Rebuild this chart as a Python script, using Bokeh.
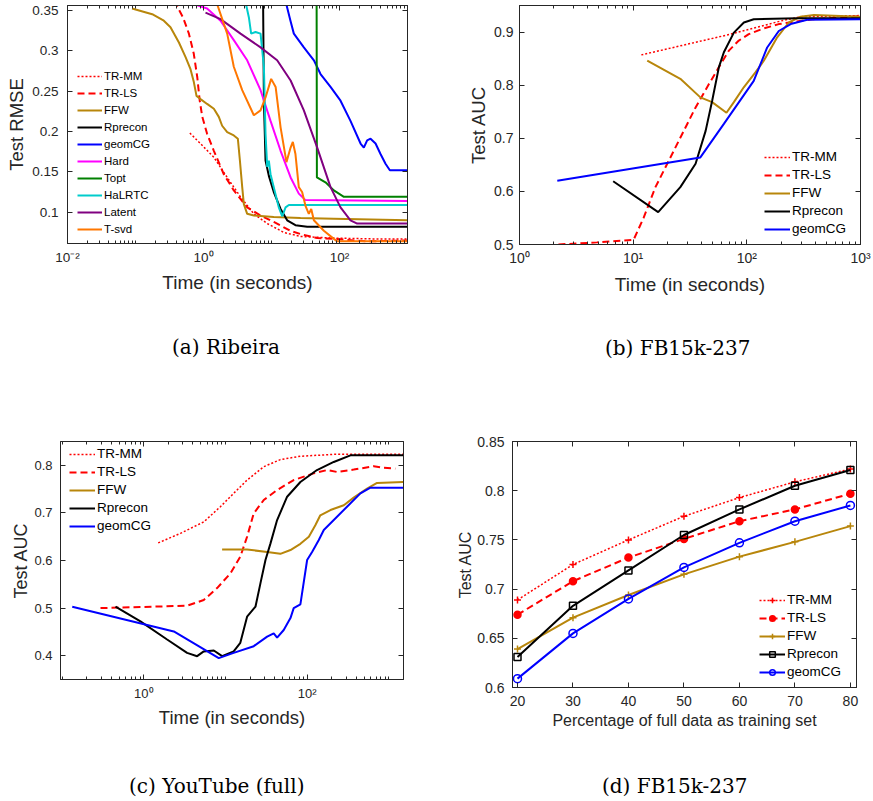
from bokeh.plotting import figure
from bokeh.models import (Legend, LegendItem, LogAxis, LinearAxis, FixedTicker,
                          CustomJSTickFormatter, Range1d, Div)
from bokeh.layouts import column, row
from bokeh.embed import file_html
from bokeh.resources import INLINE

# ---------------- data ----------------
names_a = ["TR-MM", "TR-LS", "FFW", "Rprecon", "geomCG", "Hard", "Topt", "HaLRTC", "Latent", "T-svd"]
names_b = ["TR-MM", "TR-LS", "FFW", "Rprecon", "geomCG"]
captions = ["(a) Ribeira", "(b) FB15k-237", "(c) YouTube (full)", "(d) FB15k-237"]

# (a) Ribeira : Test RMSE vs time (s)
a_trmm_t = [0.63, 0.90, 1.42, 2.23, 3.50, 5.5, 8.65, 15.2, 26.7, 82.6, 300, 1000]
a_trmm_v = [0.198, 0.185, 0.168, 0.143, 0.119, 0.098, 0.086, 0.075, 0.070, 0.068, 0.067, 0.067]
a_trls_t = [0.37, 0.50, 0.61, 0.72, 0.81, 0.88, 0.96, 1.13, 1.42, 1.99, 2.79, 4.39, 6.9, 10.8, 19, 26.7, 47, 82.6, 255, 1000]
a_trls_v = [0.362, 0.341, 0.321, 0.296, 0.267, 0.238, 0.218, 0.197, 0.176, 0.147, 0.127, 0.106, 0.096, 0.088, 0.077, 0.073, 0.068, 0.067, 0.064, 0.065]
a_ffw_t = [0.089, 0.176, 0.261, 0.327, 0.435, 0.545, 0.644, 0.721, 0.789, 0.904, 1.13, 1.42, 1.68, 1.88, 2.23, 2.79, 3.2, 3.43, 3.71, 3.92, 4.39, 5.5, 10.8, 26.7, 82.6, 1000]
a_ffw_v = [0.352, 0.345, 0.337, 0.329, 0.310, 0.292, 0.277, 0.261, 0.244, 0.240, 0.234, 0.228, 0.218, 0.207, 0.199, 0.195, 0.191, 0.164, 0.131, 0.110, 0.098, 0.096, 0.094, 0.093, 0.092, 0.090]
a_rpre_t = [7.46, 7.73, 8.17, 9.14, 10.8, 13.6, 17.0, 22.5, 33.5, 1000]
a_rpre_v = [0.40, 0.238, 0.164, 0.145, 0.125, 0.104, 0.090, 0.084, 0.082, 0.082]
a_geom_t = [16, 19, 21.3, 29.9, 42, 52.6, 73.8, 103.5, 145, 204, 228, 255, 286, 339, 401, 475, 550, 1000]
a_geom_v = [0.362, 0.337, 0.321, 0.304, 0.288, 0.271, 0.255, 0.238, 0.213, 0.185, 0.180, 0.189, 0.191, 0.185, 0.172, 0.160, 0.152, 0.152]
a_hard_t = [0.75, 1.13, 1.78, 2.79, 4.39, 6.9, 9.68, 13.6, 19.1, 25.2, 31.6, 1000]
a_hard_v = [0.357, 0.352, 0.337, 0.313, 0.288, 0.251, 0.213, 0.176, 0.143, 0.123, 0.115, 0.114]
a_topt_t = [46, 46.5, 62.2, 82.6, 116, 1000]
a_topt_v = [0.40, 0.143, 0.137, 0.127, 0.119, 0.119]
a_halr_t = [4.15, 4.65, 5.02, 5.82, 6.9, 7.73, 8.17, 8.65, 9.14, 9.68, 10.8, 12.8, 14.4, 16.1, 18, 1000]
a_halr_v = [0.36, 0.341, 0.321, 0.323, 0.321, 0.280, 0.197, 0.156, 0.164, 0.147, 0.131, 0.106, 0.095, 0.106, 0.109, 0.109]
a_late_t = [1.07, 1.78, 3.5, 6.9, 12.1, 19.1, 29.9, 47, 73.8, 103.5, 145, 182, 1000]
a_late_v = [0.347, 0.339, 0.321, 0.304, 0.288, 0.263, 0.226, 0.180, 0.131, 0.106, 0.090, 0.086, 0.086]
a_tsvd_t = [1.55, 2.23, 2.79, 3.71, 5.5, 6.9, 8.17, 9.89, 11.5, 13.6, 16.6, 19.1, 20.6, 22.5, 25.2, 28.2, 31.6, 35.4, 38.4, 42, 58.9, 82.6, 92.5, 1000]
a_tsvd_v = [0.36, 0.321, 0.280, 0.251, 0.220, 0.226, 0.242, 0.265, 0.255, 0.205, 0.162, 0.180, 0.187, 0.172, 0.131, 0.125, 0.108, 0.098, 0.104, 0.090, 0.077, 0.067, 0.064, 0.064]

# (b) FB15k-237 : Test AUC vs time (s)
b_trmm_t = [11.8, 72, 200, 300, 1000]
b_trmm_v = [0.857, 0.896, 0.921, 0.929, 0.931]
b_trls_t = [2.2, 4.8, 10.1, 12.4, 15.7, 20.6, 27, 35.4, 46.4, 56.8, 69.5, 85, 104, 137, 191, 376, 1000]
b_trls_v = [0.500, 0.504, 0.509, 0.551, 0.608, 0.658, 0.708, 0.758, 0.802, 0.834, 0.865, 0.884, 0.896, 0.906, 0.915, 0.924, 0.930]
b_ffw_t = [13.3, 26, 39, 49.5, 66.2, 76.9, 94, 119, 141, 185, 234, 297, 389, 1000]
b_ffw_v = [0.846, 0.812, 0.777, 0.768, 0.748, 0.768, 0.796, 0.824, 0.846, 0.890, 0.918, 0.929, 0.932, 0.929]
b_rpre_t = [6.67, 16.6, 26, 35.4, 43.4, 49.6, 56.8, 62.8, 76.9, 94.2, 115, 277, 1000]
b_rpre_v = [0.619, 0.561, 0.608, 0.652, 0.714, 0.771, 0.834, 0.862, 0.899, 0.918, 0.924, 0.926, 0.926]
b_geom_t = [2.15, 39, 62.8, 115, 151, 191, 243, 340, 1000]
b_geom_v = [0.620, 0.664, 0.727, 0.808, 0.871, 0.902, 0.915, 0.923, 0.924]

# (c) YouTube (full) : Test AUC vs time (s)
c_trmm_t = [1.5, 2.81, 5.42, 8.67, 12.6, 18.4, 29.4, 47, 82.7, 212, 1500]
c_trmm_v = [0.637, 0.657, 0.681, 0.713, 0.741, 0.769, 0.797, 0.812, 0.819, 0.823, 0.823]
c_trls_t = [0.295, 3.4, 5.42, 7.9, 11.5, 15.2, 18.4, 22.2, 29.4, 42.9, 68.5, 120, 175, 232, 372, 653, 867, 1200]
c_trls_v = [0.500, 0.505, 0.517, 0.542, 0.573, 0.608, 0.650, 0.699, 0.727, 0.748, 0.769, 0.783, 0.790, 0.786, 0.791, 0.798, 0.795, 0.793]
c_ffw_t = [9.1, 18.4, 32.4, 47, 62.5, 82.7, 105, 126, 145, 193, 281, 372, 542, 718, 1500]
c_ffw_v = [0.623, 0.623, 0.618, 0.614, 0.622, 0.635, 0.650, 0.674, 0.695, 0.706, 0.716, 0.732, 0.751, 0.763, 0.765]
c_rpre_t = [0.45, 0.91, 1.93, 3.39, 4.5, 5.42, 7.2, 9.1, 12.6, 15.2, 18.4, 23.3, 26.8, 30.9, 35.6, 42.9, 56.9, 82.7, 132, 212, 339, 1500]
c_rpre_v = [0.503, 0.472, 0.434, 0.406, 0.399, 0.409, 0.411, 0.399, 0.409, 0.427, 0.482, 0.503, 0.552, 0.601, 0.636, 0.685, 0.734, 0.765, 0.790, 0.807, 0.821, 0.821]
c_geom_t = [0.133, 2.33, 8.28, 12.6, 22.2, 32.4, 39, 42.9, 51.7, 62.5, 68.5, 82.7, 100, 115, 139, 160, 212, 308, 449, 596, 1500]
c_geom_v = [0.503, 0.451, 0.395, 0.406, 0.420, 0.440, 0.447, 0.438, 0.454, 0.479, 0.500, 0.508, 0.601, 0.618, 0.643, 0.664, 0.685, 0.713, 0.741, 0.753, 0.753]

# (d) FB15k-237 : Test AUC vs percentage of training data
d_pct = [20, 30, 40, 50, 60, 70, 80]
d_trmm = [0.689, 0.725, 0.750, 0.774, 0.793, 0.809, 0.822]
d_trls = [0.674, 0.708, 0.732, 0.751, 0.769, 0.781, 0.797]
d_ffw = [0.639, 0.671, 0.694, 0.715, 0.733, 0.748, 0.764]
d_rpre = [0.631, 0.683, 0.719, 0.755, 0.781, 0.805, 0.821]
d_geom = [0.609, 0.655, 0.690, 0.722, 0.747, 0.769, 0.785]

# ---------------- styles ----------------
AX = "#262626"
STY = {
    "TR-MM": dict(color="#FF0000", dash="2 2", width=1.5),
    "TR-LS": dict(color="#FF0000", dash="7 4", width=2),
    "FFW": dict(color="#B8860B", dash="solid", width=2),
    "Rprecon": dict(color="#000000", dash="solid", width=2),
    "geomCG": dict(color="#0000FF", dash="solid", width=2),
    "Hard": dict(color="#FF00FF", dash="solid", width=2),
    "Topt": dict(color="#008000", dash="solid", width=2),
    "HaLRTC": dict(color="#00CCCC", dash="solid", width=2),
    "Latent": dict(color="#800080", dash="solid", width=2),
    "T-svd": dict(color="#FF7700", dash="solid", width=2),
}

LOG_FMT = CustomJSTickFormatter(code="""
const e = Math.round(Math.log10(tick));
const m = {"-": "\u207b", "0": "\u2070", "1": "\u00b9", "2": "\u00b2", "3": "\u00b3"};
return "10" + String(e).split("").map(c => m[c]).join("");
""")
LIN_FMT = CustomJSTickFormatter(code="""
let s = tick.toFixed(2);
s = s.replace(/0+$/, "").replace(/\\.$/, "");
return s;
""")


def style_axis(ax, size, minor=True):
    ax.axis_line_color = AX
    ax.major_tick_line_color = AX
    ax.minor_tick_line_color = AX if minor else None
    ax.major_tick_in = 5
    ax.major_tick_out = 0
    ax.minor_tick_in = 3
    ax.minor_tick_out = 0
    ax.major_label_text_font = "Liberation Sans"
    ax.major_label_text_font_size = size
    ax.major_label_text_color = AX
    ax.axis_label_text_font = "Liberation Sans"
    ax.axis_label_text_font_style = "normal"
    ax.axis_label_text_color = AX


def log_minors(lo_dec, hi_dec, majors):
    minors = []
    for d in range(lo_dec, hi_dec + 1):
        for k in range(1, 10):
            v = k * 10.0 ** d
            if v not in majors:
                minors.append(v)
    return minors


def make_fig(w, h, bl, br, bt, bb, xr, yr, xlog, xticks, xminor, yticks):
    p = figure(width=w, height=h, x_axis_type="log" if xlog else "linear",
               x_range=Range1d(*xr), y_range=Range1d(*yr),
               output_backend="svg", toolbar_location=None,
               min_border_left=bl, min_border_right=br,
               min_border_top=bt, min_border_bottom=bb)
    p.grid.visible = False
    p.outline_line_color = AX
    p.background_fill_color = "white"
    p.border_fill_color = "white"
    xt = FixedTicker(ticks=xticks, minor_ticks=xminor)
    yt = FixedTicker(ticks=yticks)
    xax = p.below[0]
    yax = p.left[0]
    xax.ticker = xt
    yax.ticker = yt
    if xlog:
        xax.formatter = LOG_FMT
    yax.formatter = LIN_FMT
    # mirrored axes (box with ticks on all sides), labels not drawn
    top = (LogAxis if xlog else LinearAxis)(ticker=xt)
    right = LinearAxis(ticker=yt)
    for ax in (top, right):
        style_axis(ax, "0px", minor=xlog)
        ax.major_label_standoff = 0
        ax.major_label_text_color = None
    right.minor_tick_line_color = None
    p.add_layout(top, "above")
    p.add_layout(right, "right")
    return p, xax, yax


def add_lines(p, series, names):
    items = []
    for nm, (t, v) in zip(names, series):
        s = STY[nm]
        r = p.line(t, v, line_color=s["color"], line_dash=s["dash"], line_width=s["width"])
        items.append(LegendItem(label=nm, renderers=[r]))
    return items


def add_legend(p, items, loc, size, gw=25):
    leg = Legend(items=items, location=loc, padding=0, margin=0, spacing=3,
                 glyph_height=14, glyph_width=gw, label_height=14, label_standoff=2,
                 label_text_font="Liberation Sans", label_text_font_size=size,
                 label_text_color="black",
                 border_line_alpha=0, background_fill_alpha=0)
    p.add_layout(leg)


def caption_div(text, w, h, left, top):
    html = ('<div style="margin-left:%dpx;margin-top:%dpx;font-family:\'DejaVu Serif\',serif;'
            'font-size:20px;line-height:20px;white-space:nowrap;color:#000;">%s</div>'
            % (left, top, text))
    return Div(text=html, width=w, height=h, margin=0)


def set_axes(xax, yax, xlabel, ylabel, tsize, xls, yls, xstand, xlstand, ystand, ylstand):
    style_axis(xax, tsize, minor=True)
    style_axis(yax, tsize, minor=False)
    xax.axis_label = xlabel
    yax.axis_label = ylabel
    xax.axis_label_text_font_size = xls
    yax.axis_label_text_font_size = yls
    xax.major_label_standoff = xstand
    xax.axis_label_standoff = xlstand
    yax.major_label_standoff = ystand
    yax.axis_label_standoff = ylstand


# ---------------- (a) ----------------
pa, ax_x, ax_y = make_fig(433, 300, 67, 26, 5, 57, (0.01, 1000), (0.0613, 0.3558), True,
                          [0.01, 1, 100], log_minors(-2, 2, [0.01, 1, 100]) + [1000],
                          [0.1, 0.15, 0.2, 0.25, 0.3, 0.35])
set_axes(ax_x, ax_y, "Time (in seconds)", "Test RMSE", "13.5px", "19px", "18.5px", 6, 4, 9, 2)
items_a = add_lines(pa, [(a_trmm_t, a_trmm_v), (a_trls_t, a_trls_v), (a_ffw_t, a_ffw_v),
                         (a_rpre_t, a_rpre_v), (a_geom_t, a_geom_v), (a_hard_t, a_hard_v),
                         (a_topt_t, a_topt_v), (a_halr_t, a_halr_v), (a_late_t, a_late_v),
                         (a_tsvd_t, a_tsvd_v)], names_a)
add_legend(pa, items_a, (10, 7), "11.5px")

# ---------------- (b) ----------------
pb, bx_x, bx_y = make_fig(439, 300, 86, 12, 5, 56, (1, 1000), (0.5, 0.95), True,
                          [1, 10, 100, 1000], log_minors(0, 2, [1, 10, 100, 1000]),
                          [0.5, 0.6, 0.7, 0.8, 0.9])
set_axes(bx_x, bx_y, "Time (in seconds)", "Test AUC", "14px", "19px", "18.5px", 5, 5, 6, 2)
items_b = add_lines(pb, [(b_trmm_t, b_trmm_v), (b_trls_t, b_trls_v), (b_ffw_t, b_ffw_v),
                         (b_rpre_t, b_rpre_v), (b_geom_t, b_geom_v)], names_b)
add_legend(pb, items_b, (245, 8), "13.5px", gw=26)

# ---------------- (c) ----------------
pc, cx_x, cx_y = make_fig(433, 346, 60, 30, 41, 67, (0.0955, 1514), (0.35, 0.85), True,
                          [1, 100], log_minors(-1, 3, [1, 100]), [0.4, 0.5, 0.6, 0.7, 0.8])
set_axes(cx_x, cx_y, "Time (in seconds)", "Test AUC", "13px", "18.5px", "18px", 6, 3, 8, 0)
items_c = add_lines(pc, [(c_trmm_t, c_trmm_v), (c_trls_t, c_trls_v), (c_ffw_t, c_ffw_v),
                         (c_rpre_t, c_rpre_v), (c_geom_t, c_geom_v)], names_b)
add_legend(pc, items_c, (9, 146), "13.5px", gw=26)

# ---------------- (d) ----------------
pd_, dx_x, dx_y = make_fig(439, 346, 79, 16, 41, 59, (19.1, 81.1), (0.6, 0.85), False,
                           d_pct, [], [0.6, 0.65, 0.7, 0.75, 0.8, 0.85])
set_axes(dx_x, dx_y, "Percentage of full data as training set", "Test AUC", "14px", "16px", "16px", 8, 3, 8, 0)
dx_x.minor_tick_line_color = None
items_d = []
for nm, vals, mk, fill, sz in [("TR-MM", d_trmm, "cross", None, 7),
                               ("TR-LS", d_trls, "circle", "#FF0000", 7),
                               ("FFW", d_ffw, "cross", None, 7),
                               ("Rprecon", d_rpre, "square", None, 7),
                               ("geomCG", d_geom, "circle", None, 8)]:
    s = STY[nm]
    r1 = pd_.line(d_pct, vals, line_color=s["color"], line_dash=s["dash"], line_width=s["width"])
    r2 = pd_.scatter(d_pct, vals, marker=mk, size=sz, line_color=s["color"], line_width=1.5,
                     fill_color=fill)
    items_d.append(LegendItem(label=nm, renderers=[r1, r2]))
add_legend(pd_, items_d, (247, 8), "13.5px", gw=26)

# ---------------- captions ----------------
cap_a = caption_div(captions[0], 433, 100, 172, 37)
cap_b = caption_div(captions[1], 439, 100, 172, 38)
cap_c = caption_div(captions[2], 433, 54, 129, 30)
cap_d = caption_div(captions[3], 439, 54, 169, 30)

# each panel wrapped in its own column so frames are not aligned across panels
layout = column(row(column(pa), column(pb)), row(cap_a, cap_b),
                row(column(pc), column(pd_)), row(cap_c, cap_d))
open("out.html", "w").write(file_html(layout, INLINE))
